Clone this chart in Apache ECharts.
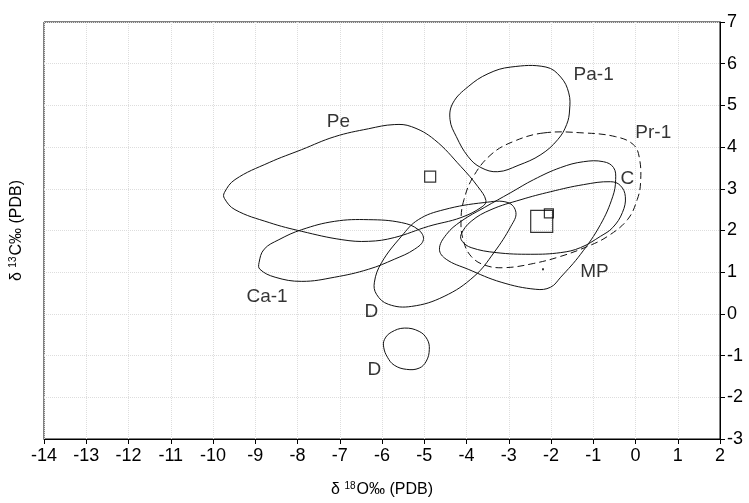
<!DOCTYPE html>
<html>
<head>
<meta charset="utf-8">
<script src="https://cdn.jsdelivr.net/npm/echarts@6/dist/echarts.min.js"></script>
<style>
  html, body { margin: 0; padding: 0; background: #fff; }
  #main { width: 749px; height: 503px; }
</style>
</head>
<body>
<div id="main"></div>
<script>
var myChart = echarts.init(document.getElementById('main'));

// outlines of the fields, [d18O, d13C]
var pa1 = [[-2.95, 5.92], [-2.12, 5.92], [-1.77, 5.68], [-1.58, 5.30], [-1.56, 4.89], [-1.63, 4.54], [-1.84, 4.18],
  [-2.24, 3.82], [-2.78, 3.56], [-3.26, 3.41], [-3.66, 3.51], [-3.96, 3.77], [-4.24, 4.25], [-4.39, 4.66],
  [-4.32, 5.06], [-3.96, 5.45], [-3.49, 5.76]];
var pe = [[-9.73, 2.91], [-9.48, 3.22], [-8.67, 3.63], [-7.90, 3.94], [-7.12, 4.25], [-6.32, 4.44], [-5.71, 4.54],
  [-5.30, 4.49], [-4.76, 4.18], [-4.13, 3.53], [-3.73, 3.05], [-3.54, 2.72], [-3.63, 2.57], [-4.13, 2.31],
  [-4.90, 2.10], [-5.71, 1.83], [-6.32, 1.74], [-6.95, 1.78], [-7.90, 1.98], [-8.67, 2.19], [-9.48, 2.50], [-9.73, 2.77]];
var ca1 = [[-8.91, 1.23], [-8.79, 1.55], [-8.44, 1.78], [-7.90, 2.02], [-7.12, 2.22], [-6.32, 2.26], [-5.54, 2.19],
  [-5.14, 2.02], [-5.02, 1.78], [-5.23, 1.55], [-5.71, 1.31], [-6.32, 1.07], [-7.12, 0.88], [-7.90, 0.78],
  [-8.53, 0.88], [-8.89, 1.07]];
var dUpper = [[-6.18, 0.76], [-6.01, 1.23], [-5.54, 1.86], [-5.14, 2.26], [-4.53, 2.50], [-3.58, 2.67], [-3.02, 2.67],
  [-2.83, 2.43], [-2.95, 2.10], [-3.35, 1.47], [-3.82, 0.90], [-4.53, 0.42], [-5.30, 0.18], [-5.85, 0.23], [-6.13, 0.47]];
var dLower = [[-5.94, -0.61], [-5.78, -0.44], [-5.47, -0.34], [-5.12, -0.42], [-4.93, -0.61], [-4.88, -0.85],
  [-4.95, -1.13], [-5.12, -1.30], [-5.42, -1.33], [-5.71, -1.23], [-5.87, -1.04], [-5.96, -0.80]];
var mp = [[-4.64, 1.55], [-4.48, 1.90], [-4.13, 2.22], [-3.58, 2.55], [-2.95, 2.91], [-2.41, 3.22], [-1.77, 3.51],
  [-1.23, 3.65], [-0.76, 3.65], [-0.52, 3.51], [-0.47, 3.22], [-0.54, 2.81], [-0.83, 2.14], [-1.30, 1.43],
  [-1.77, 0.88], [-2.01, 0.64], [-2.36, 0.59], [-3.18, 0.76], [-3.96, 1.07], [-4.48, 1.31]];
var cField = [[-4.13, 1.90], [-3.89, 2.22], [-3.42, 2.50], [-2.71, 2.74], [-2.01, 2.93], [-1.23, 3.10], [-0.59, 3.17],
  [-0.36, 3.08], [-0.24, 2.81], [-0.31, 2.43], [-0.54, 2.07], [-0.83, 1.86], [-1.30, 1.59], [-1.77, 1.47],
  [-2.48, 1.43], [-3.30, 1.47], [-3.89, 1.59], [-4.10, 1.74]];
var pr1 = [[-2.17, 4.34], [-1.23, 4.34], [-0.47, 4.25], [-0.05, 4.06], [0.09, 3.75], [0.12, 3.15], [0.04, 2.74],
  [-0.19, 2.26], [-0.66, 1.86], [-1.13, 1.62], [-1.77, 1.38], [-2.41, 1.21], [-3.07, 1.11], [-3.54, 1.16],
  [-3.89, 1.38], [-4.08, 1.78], [-4.13, 2.26], [-4.06, 2.74], [-3.84, 3.29], [-3.42, 3.82], [-2.90, 4.13]];

// square symbols (size in px) and the single dot
var squares = [[-4.86, 3.29], [-2.22, 2.22], [-2.05, 2.41]];
var squareSizes = [11, 22, 9];
var dot = [[-2.19, 1.07]];

// field names
var labelNames = ['Pe', 'Pa-1', 'Pr-1', 'C', 'MP', 'Ca-1', 'D', 'D'];
var labelPos = [[-7.03, 4.61], [-0.99, 5.73], [0.42, 4.34], [-0.19, 3.24], [-0.97, 1.02], [-8.72, 0.40], [-6.25, 0.04], [-6.18, -1.35]];

var font = 'Liberation Sans, Arial, sans-serif';

function outline(pts, dashed) {
    return {
        type: 'custom',
        silent: true,
        data: pts,
        renderItem: function (params, api) {
            if (params.dataIndex !== 0) return;
            var p = pts.map(function (d) { return api.coord(d); });
            return {
                type: 'polygon',
                shape: { points: p, smooth: 0.4 },
                style: { fill: null, stroke: '#111', lineWidth: 1, lineDash: dashed ? [7, 4] : null }
            };
        }
    };
}

option = {
    animation: false,
    backgroundColor: '#fff',
    grid: { left: 41, right: 29, top: 22, bottom: 63, show: true, borderColor: '#000', borderWidth: 1 },
    xAxis: {
        type: 'value', min: -14, max: 2, interval: 1,
        name: '{a|δ }{s|18}{a|O‰ (PDB)}', nameLocation: 'middle', nameGap: 42,
        nameTextStyle: { rich: { a: { fontSize: 16, fontFamily: font, color: '#000' }, s: { fontSize: 10, fontFamily: font, color: '#000', padding: [0, 1, 8, 0] } } },
        axisLine: { onZero: false, lineStyle: { color: '#000' } },
        axisTick: { length: 5, lineStyle: { color: '#000' } },
        axisLabel: { fontSize: 18, color: '#000', fontFamily: font, margin: 8 },
        splitLine: { show: true, lineStyle: { type: 'dotted', color: '#ddd' } }
    },
    yAxis: [{
        type: 'value', min: -3, max: 7, interval: 1, position: 'right',
        axisLine: { show: true, onZero: false, lineStyle: { color: '#000' } },
        axisTick: { show: true, length: 5, lineStyle: { color: '#000' } },
        axisLabel: { fontSize: 18, color: '#000', fontFamily: font, margin: 7, align: 'left' },
        splitLine: { show: true, lineStyle: { type: 'dotted', color: '#ddd' } }
    }, {
        type: 'value', min: -3, max: 7, position: 'left',
        name: '{a|δ }{s|13}{a|C‰ (PDB)}', nameLocation: 'middle', nameGap: 18, nameRotate: 90,
        nameTextStyle: { rich: { a: { fontSize: 16, fontFamily: font, color: '#000' }, s: { fontSize: 10, fontFamily: font, color: '#000', padding: [0, 1, 8, 0] } } },
        axisLine: { show: false, onZero: false }, axisTick: { show: false }, axisLabel: { show: false }, splitLine: { show: false }
    }],
    series: [
        outline(pa1), outline(pe), outline(ca1), outline(dUpper), outline(dLower),
        outline(mp), outline(cField), outline(pr1, true),
        {
            type: 'scatter', silent: true, data: squares, symbol: 'rect',
            symbolSize: function (v, p) { return squareSizes[p.dataIndex]; },
            itemStyle: { color: 'rgba(0,0,0,0)', borderColor: '#000', borderWidth: 1.2 }
        },
        {
            type: 'scatter', silent: true, data: dot, symbol: 'rect', symbolSize: 2,
            itemStyle: { color: '#000' }
        },
        {
            type: 'scatter', silent: true, data: labelPos, symbolSize: 0,
            label: {
                show: true, position: 'inside', fontSize: 19, color: '#000', fontFamily: font,
                formatter: function (p) { return labelNames[p.dataIndex]; }
            }
        }
    ]
};
myChart.setOption(option);
</script>
</body>
</html>
